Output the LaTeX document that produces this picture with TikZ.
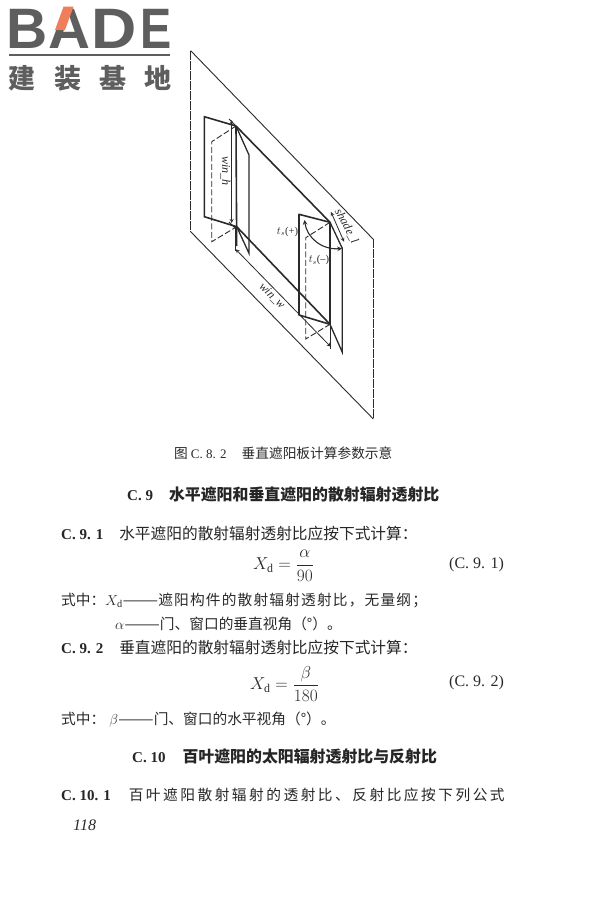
\documentclass[tikz,border=0pt]{standalone}
\usepackage{fontspec}
\usepackage{amsmath}
\usepackage{xcolor}
\setmainfont{Liberation Serif}
\newfontfamily\cjk{Noto Sans CJK SC}
\newfontfamily\cjkw[LetterSpace=8]{Noto Sans CJK SC}
\newfontfamily\cjkl[LetterSpace=17]{Noto Sans CJK SC}
\newfontfamily\logofont{Liberation Sans}
\definecolor{logogray}{HTML}{5E5E5E}
\definecolor{logoorange}{HTML}{EE7F5A}
\definecolor{inkgray}{HTML}{2A2A2A}
\newcommand{\fs}[1]{\fontsize{#1}{#1}\selectfont}
\newcommand{\longdash}{\scalebox{1.45}[1]{——}}
\tikzset{
	thinline/.style={line width=0.9pt, color=inkgray},
	midline/.style={line width=1.3pt, color=inkgray},
	thickline/.style={line width=1.6pt, color=inkgray, line join=round},
	backline/.style={line width=0.9pt, color=inkgray, dash pattern=on 6pt off 2.5pt},
	scanline/.style={line width=0.9pt, color=inkgray, dash pattern=on 9pt off 1pt},
	dimtick/.style={line width=0.8pt, color=inkgray, <->, >=stealth},
	fig/.style={inner sep=0pt, color=inkgray, font=\itshape\fs{12}},
	txt/.style={anchor=west, inner sep=0pt, color=inkgray, font=\cjk\fs{14.7}},
	head/.style={anchor=west, inner sep=0pt, color=black!85, font=\cjk\bfseries\fs{15.9}},
	brand/.style={inner sep=0pt, color=logogray, anchor=base west, transform shape, font=\logofont\bfseries\fs{57}},
	brandcjk/.style={inner sep=0pt, color=logogray, font=\cjk\bfseries\fs{27}},
}
\begin{document}
\begin{tikzpicture}[x=1pt, y=-1pt]
	\useasboundingbox (0,0) rectangle (600,900);
	\fill[white] (0,0) rectangle (600,900);

	% logo
	\node[brand] (logob) at (6,48) {B};
	\node[brand, xscale=1.02] (logoa) at (48,48) {A};
	\node[brand, xscale=1.1] (logod) at (91,48) {D};
	\node[brand, xscale=0.82] (logoe) at (140,48) {E};
	\fill[logoorange] (63.5,6.7) -- (73.5,6.7) -- (65,30) -- (55,30) -- cycle;
	\draw[logogray, line width=2.5pt] (9,55) -- (170,55);
	\node[brandcjk] (logojian) at (22,78) {建};
	\node[brandcjk] (logozhuang) at (68,78) {装};
	\node[brandcjk] (logoji) at (113,78) {基};
	\node[brandcjk] (logodi) at (158,78) {地};

	% wall plane
	\draw[thinline] (190.7,50.7) -- (373.3,239.3);
	\draw[thinline] (190.7,231.7) -- (373.3,419);
	\draw[scanline] (190.7,50.7) -- (190.7,231.7);
	\draw[scanline] (373.3,239.3) -- (373.3,419);

	% left window and shade
	\draw[thickline] (236,126) -- (204.3,116.7) -- (204.3,216.7) -- (236.7,226.7);
	\draw[backline] (236,126) -- (211.7,141.7) -- (211.7,241.7) -- (236.7,226.7);
	\draw[thickline] (236,126) -- (236.7,246);
	\draw[midline] (236,126) -- (249,155) -- (249,253.3) -- (236.7,226.7);

	% right window and shade
	\draw[thickline] (330,222.3) -- (299,214.3) -- (299,315) -- (330,324.3);
	\draw[backline] (330,222.3) -- (305.7,237.7) -- (305.7,339) -- (330,324.3);
	\draw[midline] (330,222.3) -- (330,324.3);
	\draw[midline] (330,222.3) -- (342.3,248.3) -- (342.3,352.3) -- (330,324.3);

	% top and bottom edges
	\draw[thickline] (236,126) -- (330,222.3);
	\draw[thickline] (236.7,226.7) -- (330,324.3);

	% dimensions
	\draw[dimtick] (231.7,120) -- (231.7,223);
	\draw[thinline] (229,119) -- (236,126);
	\draw[thinline] (229,222) -- (236,229);
	\draw[dimtick] (235.7,249.3) -- (330.7,346.7);
	\draw[thinline] (235.7,228) -- (235.7,251);
	\draw[thinline] (330.7,325) -- (330.7,349);
	\draw[dimtick] (331,212) -- (344,241.7);
	\draw[dimtick, line width=1.1pt] (304.5,220) .. controls (307,238) and (322,250) .. (342,248.5);

	% labels
	\node[fig, rotate=-90] (winh) at (225.5,171) {win\_h};
	\node[fig, rotate=-45] (winw) at (272,296) {win\_w};
	\node[fig, rotate=-62] (shadel) at (346.5,226) {shade\_l};
	\node[fig, font=\fs{10.5}] (tsplus) at (287.5,231.5) {$t_s$(+)};
	\node[fig, font=\fs{10.5}] (tsminus) at (319,260) {$t_s$(--)};

	% caption and text
	\node[txt, font=\cjk\fs{13.7}] (caption) at (174,453) {图\hspace{3pt}{\rmfamily\fs{13}C. 8. 2}\hspace{15pt}垂直遮阳板计算参数示意};
	\node[head] (headnine) at (127,495) {{\rmfamily\fs{15}C. 9}\hspace{16pt}水平遮阳和垂直遮阳的散射辐射透射比};
	\node[head] (parone) at (61,534) {{\rmfamily\fs{15}C. 9. 1}\hspace{16pt}{\cjk\mdseries\fs{15.7}水平遮阳的散射辐射透射比应按下式计算：}};
	\node[txt, font=\rmfamily\fs{17}] (eqone) at (253,566) {$X_{\mathrm{d}}=\dfrac{\alpha}{90}$};
	\node[txt, font=\rmfamily\fs{16}] (numone) at (449,565) {(C. 9. 1)};
	\node[txt] (whereone) at (61,600) {式中：{\rmfamily$X_{\mathrm{d}}$}\longdash{\cjkw 遮阳构件的散射辐射透射比，无量纲；}};
	\node[txt] (wheretwo) at (115,624) {{\rmfamily$\alpha$}\longdash 门、窗口的垂直视角（°）。};
	\node[head] (partwo) at (61,648) {{\rmfamily\fs{15}C. 9. 2}\hspace{16pt}{\cjk\mdseries\fs{15.7}垂直遮阳的散射辐射透射比应按下式计算：}};
	\node[txt, font=\rmfamily\fs{17}] (eqtwo) at (250,684) {$X_{\mathrm{d}}=\dfrac{\beta}{180}$};
	\node[txt, font=\rmfamily\fs{16}] (numtwo) at (449,683) {(C. 9. 2)};
	\node[txt] (wherethree) at (61,720) {式中：\hspace{4pt}{\rmfamily$\beta$}\longdash 门、窗口的水平视角（°）。};
	\node[head] (headten) at (132,757) {{\rmfamily\fs{15}C. 10}\hspace{17pt}百叶遮阳的太阳辐射透射比与反射比};
	\node[head] (parthree) at (61,795) {{\rmfamily\fs{15}C. 10. 1}\hspace{18pt}{\cjkl\mdseries\fs{14.7}百叶遮阳散射辐射的透射比、反射比应按下列公式}};
	\node[txt, font=\rmfamily\itshape\fs{16}] (pagenum) at (73,825) {118};
\end{tikzpicture}
\end{document}
